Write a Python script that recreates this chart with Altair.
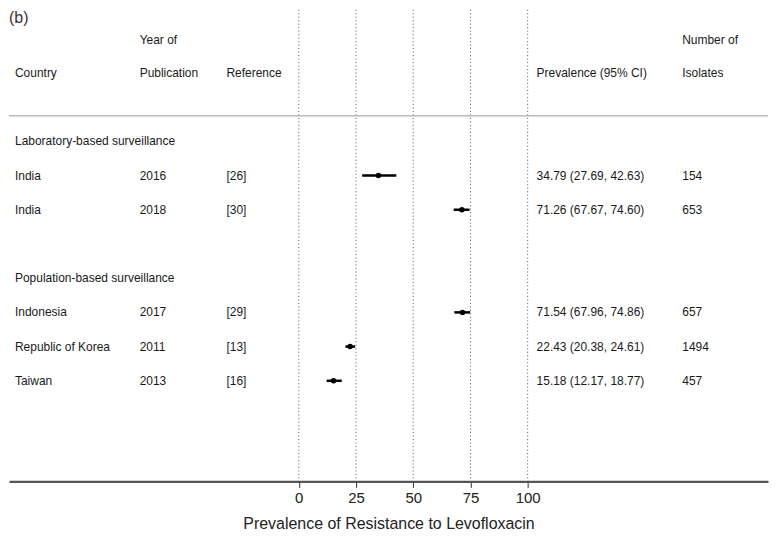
import altair as alt
import pandas as pd

# ---- data ----
countries = ["India", "India", "Indonesia", "Republic of Korea", "Taiwan"]
years = ["2016", "2018", "2017", "2011", "2013"]
refs = ["[26]", "[30]", "[29]", "[13]", "[16]"]
prev = [34.79, 71.26, 71.54, 22.43, 15.18]
lo = [27.69, 67.67, 67.96, 20.38, 12.17]
hi = [42.63, 74.60, 74.86, 24.61, 18.77]
n_isolates = ["154", "653", "657", "1494", "457"]
study_rows = [1, 2, 5, 6, 7]

group_labels = ["Laboratory-based surveillance", "Population-based surveillance"]
group_rows = [0, 4]

ticks = [0, 25, 50, 75, 100]

# header cells: (column, row, text)
header_cols = ["country", "year", "year", "ref", "prev", "n", "n"]
header_rows = [-2, -2.95, -2, -2, -2, -2.95, -2]
header_texts = ["Country", "Year of", "Publication", "Reference",
                "Prevalence (95% CI)", "Number of", "Isolates"]

studies = pd.DataFrame({
    "country": countries, "year": years, "ref": refs,
    "prev": prev, "lo": lo, "hi": hi, "n": n_isolates, "row": study_rows,
})
studies["prevtxt"] = [f"{p:.2f} ({a:.2f}, {b:.2f})" for p, a, b in zip(prev, lo, hi)]

groups = pd.DataFrame({"label": group_labels, "row": group_rows})
headers = pd.DataFrame({"col": header_cols, "row": header_rows, "text": header_texts})
grid = pd.DataFrame({"t": ticks})

# ---- layout ----
W, H = 761, 473
col_x = {"country": 6, "year": 131, "ref": 218, "prev": 529, "n": 675}
FONT = "Liberation Sans"
TXT = "#1a1a1a"

xscale = alt.Scale(domain=[-126.6, 205.0], nice=False, zero=False)
yscale = alt.Scale(domain=[-3.848, 9.942], nice=False, zero=False, reverse=True)

xaxis = alt.Axis(values=ticks, grid=False, domainColor="#555555", domainWidth=2.2,
                 tickColor="#333333", tickSize=6, tickWidth=1,
                 labelFont=FONT, labelFontSize=15, labelColor="#222222",
                 labelPadding=3, title="Prevalence of Resistance to Levofloxacin",
                 titleFont=FONT, titleFontSize=16, titleFontWeight="normal",
                 titleColor="#222222", titlePadding=10)

base_grid = alt.Chart(grid).mark_rule(strokeDash=[1, 2.5], color="#555555", strokeWidth=1).encode(
    x=alt.X("t:Q", scale=xscale, axis=xaxis)
)

sep = alt.Chart(pd.DataFrame({"r": [-0.75]})).mark_rule(color="#bbbbbb", strokeWidth=1.5).encode(
    y=alt.Y("r:Q", scale=yscale, axis=None)
)

ci = alt.Chart(studies).mark_rule(color="black", strokeWidth=2.5).encode(
    x=alt.X("lo:Q", scale=xscale), x2="hi:Q",
    y=alt.Y("row:Q", scale=yscale, axis=None)
)
pts = alt.Chart(studies).mark_circle(color="black", opacity=1, size=30).encode(
    x=alt.X("prev:Q", scale=xscale),
    y=alt.Y("row:Q", scale=yscale, axis=None)
)

def text_layer(df, field, xpx):
    return alt.Chart(df).mark_text(align="left", baseline="middle", font=FONT,
                                   fontSize=12, color=TXT).encode(
        x=alt.value(xpx),
        y=alt.Y("row:Q", scale=yscale, axis=None),
        text=f"{field}:N",
    )

layers = [base_grid, sep, ci, pts]
layers.append(text_layer(groups, "label", col_x["country"]))
for field, col in [("country", "country"), ("year", "year"), ("ref", "ref"),
                   ("prevtxt", "prev"), ("n", "n")]:
    layers.append(text_layer(studies, field, col_x[col]))
for col in col_x:
    sub = headers[headers["col"] == col]
    if len(sub):
        layers.append(text_layer(sub, "text", col_x[col]))

label_b = alt.Chart(pd.DataFrame({"t": ["(b)"]})).mark_text(
    align="left", baseline="top", font=FONT, fontSize=16, color="#333333",
    fontWeight=300).encode(x=alt.value(0), y=alt.value(0), text="t:N")
layers.append(label_b)

chart = alt.layer(*layers).properties(
    width=W, height=H, padding=0, background="white"
).configure_view(strokeWidth=0)

chart.save("out.html", embed_options={"renderer": "svg", "actions": False})
